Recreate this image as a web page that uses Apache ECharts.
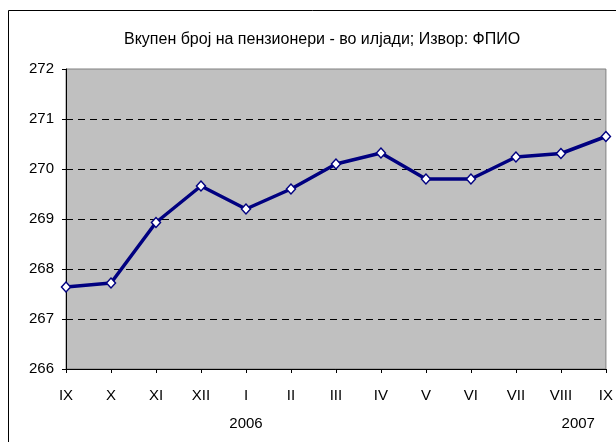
<!DOCTYPE html>
<html>
<head>
<meta charset="utf-8">
<script src="https://cdn.jsdelivr.net/npm/echarts@6/dist/echarts.min.js"></script>
<style>
  html, body { margin: 0; padding: 0; background: #fff; overflow: hidden; }
  #chart { width: 616px; height: 442px; }
</style>
</head>
<body>
<div id="chart"></div>
<script>
const months = ['IX', 'X', 'XI', 'XII', 'I', 'II', 'III', 'IV', 'V', 'VI', 'VII', 'VIII', 'IX']
const years = ['', '', '', '', '2006', '', '', '', '', '', '', '', '2007']
const pensioners = [267.64, 267.72, 268.93, 269.66, 269.2, 269.6, 270.1, 270.32, 269.8, 269.8, 270.24, 270.31, 270.65]

const font = 'Liberation Sans, Arial, sans-serif'
const chart = echarts.init(document.getElementById('chart'), null, { renderer: 'canvas' })

chart.setOption({
  animation: false,
  backgroundColor: '#fff',
  title: {
    text: 'Вкупен број на пензионери - во илјади; Извор: ФПИО',
    left: 119,
    top: 27,
    textStyle: { fontFamily: font, fontSize: 16, fontWeight: 'normal', color: '#000' },
  },
  graphic: [
    {
      type: 'rect',
      silent: true,
      shape: { x: 8.5, y: 10.5, width: 700, height: 600 },
      style: { fill: 'none', stroke: '#000', lineWidth: 1 },
    },
  ],
  grid: {
    left: 66, right: 4, top: 69, bottom: 73,
    show: true,
    backgroundColor: '#c0c0c0',
    borderColor: '#808080',
    borderWidth: 1,
  },
  xAxis: [
    {
      type: 'category',
      data: months,
      boundaryGap: false,
      axisLine: { lineStyle: { color: '#000', width: 1 } },
      axisTick: { length: 4, lineStyle: { color: '#000' } },
      axisLabel: { color: '#000', fontFamily: font, fontSize: 15, margin: 19, interval: 0 },
    },
    {
      type: 'category',
      position: 'bottom',
      data: years.map((y, i) =>
        i === years.length - 1 ? { value: y, textStyle: { align: 'right', padding: [0, 11, 0, 0] } } : y),
      boundaryGap: false,
      axisLine: { show: false },
      axisTick: { show: false },
      axisLabel: { color: '#000', fontFamily: font, fontSize: 15, margin: 47, interval: 0 },
    },
  ],
  yAxis: {
    type: 'value',
    min: 266,
    max: 272,
    interval: 1,
    axisLine: { show: true, lineStyle: { color: '#000', width: 1 } },
    axisTick: { show: true, length: 4, lineStyle: { color: '#000' } },
    axisLabel: { color: '#000', fontFamily: font, fontSize: 15, margin: 12 },
    splitLine: {
      show: true,
      lineStyle: {
        color: ['transparent', '#000', '#000', '#000', '#000', '#000', 'transparent'],
        type: [7, 5],
        width: 1,
      },
    },
  },
  series: [
    {
      type: 'line',
      data: pensioners,
      symbol: 'diamond',
      symbolSize: [9, 10],
      lineStyle: { color: '#000080', width: 3.5 },
      itemStyle: { color: '#fff', borderColor: '#000080', borderWidth: 1.5 },
    },
  ],
})
</script>
</body>
</html>
